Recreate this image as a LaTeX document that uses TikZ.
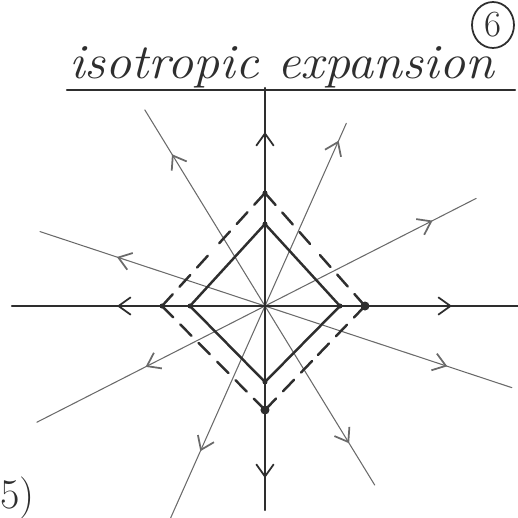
\documentclass[tikz,border=0pt]{standalone}
\usepackage{xcolor}
\usepackage{graphicx}
\usetikzlibrary{arrows.meta, decorations.markings, calc}
\definecolor{cink}{HTML}{2E2E2E}
\definecolor{cpencil}{HTML}{6A6A6A}

\tikzset{
  barb/.style={postaction={decorate}, decoration={markings,
      mark=at position #1 with {\arrow{Straight Barb[length=7pt, width=10pt, line width=1pt]}}}},
  axis/.style={cink, line width=1.4pt},
  pencil/.style={cpencil, line width=0.6pt},
}

\begin{document}
\begin{tikzpicture}[x=0.02cm, y=0.02cm, line cap=round]
    \useasboundingbox (-265,-212) rectangle (253,306);
    \coordinate (o) at (0,0);
    % title and number
    \node (title) [anchor=base west, inner sep=0pt, font=\fontsize{28}{32}\selectfont\itshape, text=cink] at (-196,228) {\scalebox{1.06}[1]{isotropic expansion}};
    \coordinate (ul) at (-198,216);
    \coordinate (ur) at (250,216);
    \draw[cink, line width=1.2pt] (ul) -- (ur);
    \node (six) [inner sep=0pt, font=\fontsize{21}{24}\selectfont, text=cink] at (228,281) {6};
    \draw[cink, line width=1pt] (six) ellipse [x radius=0.42cm, y radius=0.46cm];
    \node (five) [anchor=base east, font=\fontsize{24}{28}\selectfont, text=cink] at (-224,-202) {5)};
    % thin rays
    \foreach \n/\a/\l/\d in {a/121.5/230/178, b/-58.5/210/161, c/66/200/181, d/246/232/159,
                             e/27/237/188, f/207/256/134, g/161.7/237/156, h/-18.3/260/192}{
        \coordinate (r\n) at (\a:\l);
        \draw[pencil, barb=\d/\l] (o) -- (r\n);
    }
    % axes
    \foreach \n/\a/\l/\d in {e/0/253/187, n/90/218/174, w/180/253/148, s/270/204/172}{
        \coordinate (x\n) at (\a:\l);
        \draw[axis, barb=\d/\l] (o) -- (x\n);
    }
    % solid diamond
    \coordinate (s1) at (75,0);
    \coordinate (s2) at (0,82);
    \coordinate (s3) at (-75,0);
    \coordinate (s4) at (0,-76);
    \draw[axis, line join=round] (s1) -- (s2) -- (s3) -- (s4) -- cycle;
    % dashed diamond
    \coordinate (d1) at (100,0);
    \coordinate (d2) at (0,113);
    \coordinate (d3) at (-103,0);
    \coordinate (d4) at (0,-104);
    \foreach \i/\j in {1/2, 2/3, 3/4, 4/1}{
        \draw[axis, dash pattern=on 0.32cm off 0.2cm] (d\i) -- ($(d\i)!0.5!(d\j)$);
        \draw[axis, dash pattern=on 0.32cm off 0.2cm] (d\j) -- ($(d\j)!0.5!(d\i)$);
    }
    \foreach \p in {s1, s2, s3, s4, d2, d3} \fill[cink] (\p) circle (2.5);
    \foreach \p in {d1, d4} \fill[cink] (\p) circle (4.5);
\end{tikzpicture}
\end{document}
